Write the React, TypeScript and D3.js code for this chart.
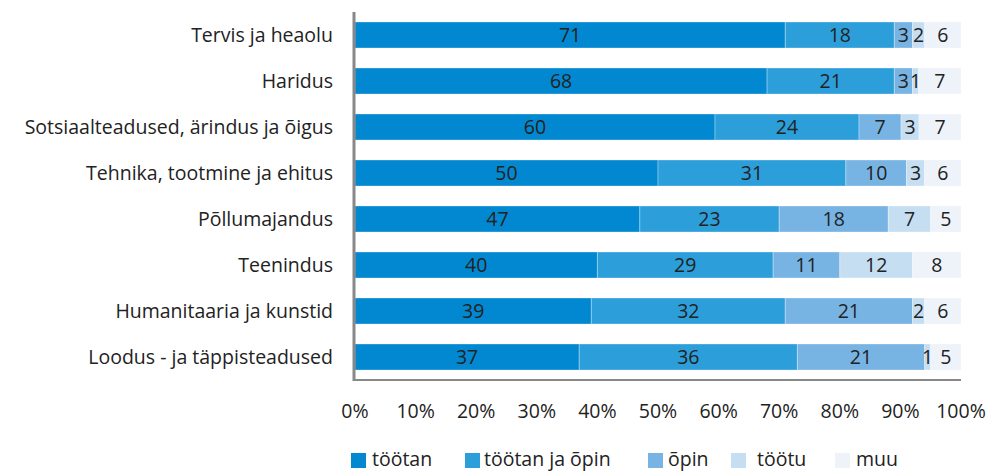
import React from "react";
import * as d3 from "d3";

const categories = [
  "Tervis ja heaolu",
  "Haridus",
  "Sotsiaalteadused, ärindus ja õigus",
  "Tehnika, tootmine ja ehitus",
  "Põllumajandus",
  "Teenindus",
  "Humanitaaria ja kunstid",
  "Loodus - ja täppisteadused",
];
const seriesNames = ["töötan", "töötan ja õpin", "õpin", "töötu", "muu"];
const tootan = [71, 68, 60, 50, 47, 40, 39, 37];
const tootanJaOpin = [18, 21, 24, 31, 23, 29, 32, 36];
const opin = [3, 3, 7, 10, 18, 11, 21, 21];
const tootu = [2, 1, 3, 3, 7, 12, 2, 1];
const muu = [6, 7, 7, 6, 5, 8, 6, 5];
const xTicks = [0, 10, 20, 30, 40, 50, 60, 70, 80, 90, 100];
const colors = ["#0288d1", "#2c9fdb", "#78b4e3", "#c6def2", "#eef3fa"];

const W = 988;
const H = 472;
const FONT = "'Open Sans', 'DejaVu Sans', sans-serif";
const FS = 19.5;

export default function App() {
  const series = [tootan, tootanJaOpin, opin, tootu, muu];
  const x = d3.scaleLinear().domain([0, 100]).range([355, 961]);
  const y = d3
    .scaleBand<string>()
    .domain(categories)
    .range([12, 380])
    .paddingInner(0.435)
    .paddingOuter(0.2175);

  const rows = categories.map((c, i) => {
    const vals = series.map((s) => s[i]);
    const total = d3.sum(vals);
    let acc = 0;
    return vals.map((v, k) => {
      const x0 = (acc / total) * 100;
      acc += v;
      const x1 = (acc / total) * 100;
      return { cat: c, k, v, x0, x1 };
    });
  });

  const legendX = [351, 465, 648, 731, 835];
  const legendTextX = [372, 484, 668, 757, 856];

  return (
    <svg width={W} height={H} style={{ display: "block", position: "absolute", left: 0, top: 0 }}>
      <rect width={W} height={H} fill="#fff" />
      {rows.map((segs, i) =>
        segs.map((s) => (
          <g key={`${i}-${s.k}`}>
            <rect
              x={x(s.x0)}
              y={y(s.cat)}
              width={x(s.x1) - x(s.x0)}
              height={y.bandwidth()}
              fill={colors[s.k]}
              stroke="#ffffff"
              strokeOpacity={0.3}
              strokeWidth={1}
            />
            <text
              x={(x(s.x0) + x(s.x1)) / 2}
              y={(y(s.cat) as number) + y.bandwidth() / 2}
              dy="0.36em"
              textAnchor="middle"
              fontFamily={FONT}
              fontSize={FS}
              fill="#222"
            >
              {s.v}
            </text>
          </g>
        ))
      )}
      {categories.map((c) => (
        <text
          key={c}
          x={333}
          y={(y(c) as number) + y.bandwidth() / 2}
          dy="0.36em"
          textAnchor="end"
          fontFamily={FONT}
          fontSize={FS}
          fill="#222"
        >
          {c}
        </text>
      ))}
      <line x1={354} x2={354} y1={12} y2={381} stroke="#888" strokeWidth={3} />
      <line x1={354} x2={961} y1={380} y2={380} stroke="#888" strokeWidth={2} />
      {xTicks.map((t) => (
        <text
          key={t}
          x={x(t)}
          y={411}
          dy="0.36em"
          textAnchor="middle"
          fontFamily={FONT}
          fontSize={FS}
          fill="#222"
        >
          {t}%
        </text>
      ))}
      {seriesNames.map((n, k) => (
        <g key={n}>
          <rect x={legendX[k]} y={453} width={15} height={15} fill={colors[k]} />
          <text
            x={legendTextX[k]}
            y={459}
            dy="0.36em"
            fontFamily={FONT}
            fontSize={FS}
            fill="#222"
          >
            {n}
          </text>
        </g>
      ))}
    </svg>
  );
}
